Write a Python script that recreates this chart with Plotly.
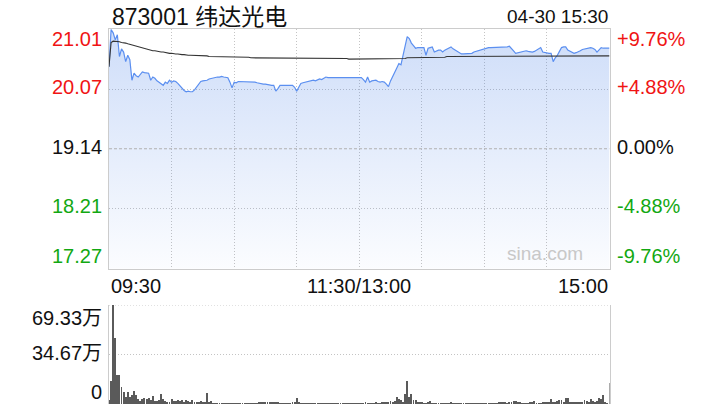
import plotly.graph_objects as go

title_text = "873001 纬达光电"
time_text = "04-30 15:30"
prev_close = 19.14
price_ticks = [21.01, 20.07, 19.14, 18.21, 17.27]
pct_labels = ["+9.76%", "+4.88%", "0.00%", "-4.88%", "-9.76%"]
time_labels = ["09:30", "11:30/13:00", "15:00"]
vol_ticks = [69.33, 34.67, 0]
vol_labels = ["69.33万", "34.67万", "0"]

price = [
    20.42, 21.00, 20.95, 20.84, 20.92, 20.58, 20.70, 20.65, 20.50, 20.60,
    20.53, 20.21, 20.32, 20.28, 20.26, 20.30, 20.34, 20.33, 20.32, 20.32,
    20.21, 20.26, 20.24, 20.20, 20.18, 20.16, 20.13, 20.18, 20.16, 20.21,
    20.18, 20.20, 20.19, 20.16, 20.12, 20.08, 20.05, 20.03, 20.04, 20.03,
    20.03, 20.06, 20.10, 20.15, 20.19, 20.20, 20.20, 20.21, 20.23, 20.24,
    20.25, 20.26, 20.26, 20.26, 20.27, 20.26, 20.26, 20.25, 20.18, 20.09,
    20.18, 20.17, 20.19, 20.19, 20.18, 20.19, 20.19, 20.19, 20.18, 20.19,
    20.18, 20.17, 20.16, 20.16, 20.15, 20.15, 20.14, 20.14, 20.13, 20.13,
    20.04, 20.08, 20.13, 20.13, 20.13, 20.13, 20.13, 20.13, 20.13, 20.10,
    20.04, 20.10, 20.16, 20.17, 20.18, 20.19, 20.19, 20.20, 20.21, 20.20,
    20.21, 20.23, 20.22, 20.24, 20.26, 20.25, 20.25, 20.25, 20.26, 20.25,
    20.25, 20.25, 20.25, 20.26, 20.25, 20.25, 20.25, 20.26, 20.25, 20.25,
    20.26, 20.25, 20.22, 20.18, 20.26, 20.18, 20.20, 20.21, 20.21, 20.19,
    20.18, 20.19, 20.18, 20.15, 20.11, 20.20, 20.26, 20.33, 20.40, 20.47,
    20.45, 20.60, 20.75, 20.89, 20.86, 20.79, 20.75, 20.71, 20.72, 20.72,
    20.72, 20.72, 20.60, 20.71, 20.72, 20.73, 20.65, 20.67, 20.68, 20.68,
    20.65, 20.68, 20.70, 20.72, 20.73, 20.70, 20.68, 20.66, 20.63, 20.62,
    20.62, 20.62, 20.62, 20.62, 20.63, 20.65, 20.66, 20.67, 20.68, 20.70,
    20.71, 20.72, 20.72, 20.72, 20.72, 20.72, 20.72, 20.72, 20.72, 20.73,
    20.73, 20.73, 20.74, 20.71, 20.67, 20.63, 20.64, 20.65, 20.65, 20.66,
    20.67, 20.66, 20.65, 20.65, 20.66, 20.68, 20.70, 20.72, 20.65, 20.64,
    20.64, 20.63, 20.63, 20.50, 20.56, 20.60, 20.66, 20.72, 20.73, 20.73,
    20.68, 20.66, 20.65, 20.63, 20.64, 20.65, 20.67, 20.69, 20.70, 20.71,
    20.72, 20.72, 20.71, 20.69, 20.65, 20.68, 20.72, 20.71, 20.71, 20.71,
    20.71,
]

avg_price = [
    20.42, 20.80, 20.82, 20.82, 20.82, 20.81, 20.80, 20.80, 20.79, 20.78,
    20.77, 20.76, 20.75, 20.74, 20.73, 20.72, 20.71, 20.70, 20.69, 20.68,
    20.68, 20.67, 20.67, 20.66, 20.66, 20.65, 20.65, 20.64, 20.64, 20.63,
    20.63, 20.62, 20.62, 20.62, 20.61, 20.61, 20.61, 20.60, 20.60, 20.60,
    20.60, 20.60, 20.59, 20.59, 20.59, 20.59, 20.59, 20.59, 20.58, 20.58,
    20.58, 20.58, 20.58, 20.58, 20.58, 20.58, 20.58, 20.57, 20.57, 20.57,
    20.57, 20.57, 20.57, 20.57, 20.57, 20.57, 20.57, 20.57, 20.56, 20.56,
    20.56, 20.56, 20.56, 20.56, 20.56, 20.56, 20.56, 20.56, 20.56, 20.56,
    20.56, 20.56, 20.56, 20.56, 20.56, 20.55, 20.55, 20.55, 20.55, 20.55,
    20.55, 20.55, 20.55, 20.55, 20.55, 20.55, 20.55, 20.55, 20.55, 20.55,
    20.55, 20.55, 20.55, 20.55, 20.55, 20.55, 20.55, 20.55, 20.55, 20.55,
    20.55, 20.55, 20.55, 20.55, 20.55, 20.54, 20.54, 20.54, 20.54, 20.54,
    20.54, 20.54, 20.54, 20.54, 20.54, 20.54, 20.54, 20.54, 20.54, 20.54,
    20.54, 20.54, 20.54, 20.54, 20.54, 20.54, 20.54, 20.54, 20.54, 20.54,
    20.55, 20.55, 20.55, 20.56, 20.56, 20.56, 20.57, 20.57, 20.57, 20.57,
    20.57, 20.57, 20.57, 20.57, 20.57, 20.57, 20.57, 20.57, 20.57, 20.57,
    20.57, 20.57, 20.58, 20.58, 20.58, 20.58, 20.58, 20.58, 20.58, 20.58,
    20.58, 20.58, 20.58, 20.58, 20.58, 20.58, 20.58, 20.58, 20.58, 20.58,
    20.58, 20.58, 20.58, 20.58, 20.58, 20.58, 20.58, 20.58, 20.58, 20.58,
    20.58, 20.58, 20.58, 20.58, 20.58, 20.58, 20.58, 20.58, 20.58, 20.58,
    20.58, 20.58, 20.58, 20.58, 20.58, 20.58, 20.58, 20.58, 20.59, 20.59,
    20.59, 20.59, 20.59, 20.59, 20.59, 20.59, 20.59, 20.59, 20.59, 20.59,
    20.59, 20.59, 20.59, 20.59, 20.59, 20.59, 20.59, 20.59, 20.59, 20.59,
    20.59, 20.59, 20.59, 20.59, 20.59, 20.59, 20.59, 20.59, 20.59, 20.59,
    20.59,
]

volume_wan = [
    3.0, 16.2, 69.33, 46.2, 20.1, 20.1, 11.6, 8.1, 5.1, 8.6,
    5.1, 6.2, 9.2, 6.2, 3.5, 2.3, 3.5, 3.9, 3.5, 3.9,
    2.8, 5.8, 2.3, 1.8, 3.0, 6.9, 3.5, 2.3, 1.2, 1.2,
    3.5, 2.3, 2.0, 2.8, 2.0, 2.5, 1.5, 2.8, 2.0, 1.5,
    2.8, 1.2, 1.5, 1.2, 1.8, 1.5, 1.0, 7.6, 0.8, 2.0,
    0.6, 0.5, 0.4, 0.6, 0.5, 0.7, 0.5, 0.4, 0.6, 0.5,
    0.5, 0.6, 0.4, 0.5, 0.7, 0.5, 0.6, 0.4, 0.5, 0.6,
    0.5, 0.7, 0.8, 1.0, 1.2, 0.9, 1.1, 0.8, 1.0, 1.2,
    0.9, 0.8, 0.6, 0.5, 0.6, 0.4, 0.5, 0.6, 0.8, 1.5,
    4.2, 1.2, 0.6, 0.5, 0.4, 0.5, 0.6, 0.5, 0.4, 0.6,
    0.5, 0.7, 0.5, 0.4, 0.6, 0.5, 0.5, 0.6, 0.4, 0.5,
    0.7, 0.5, 0.6, 0.4, 0.5, 0.6, 0.5, 0.7, 0.6, 0.5,
    0.6, 0.5, 0.7, 0.8, 0.6, 0.5, 0.7, 0.6, 0.8, 0.6,
    0.7, 0.8, 0.9, 1.0, 1.0, 2.0, 1.2, 1.8, 4.8, 3.5,
    2.8, 1.5, 6.9, 16.2, 4.6, 6.9, 3.0, 2.8, 1.2, 0.8,
    1.0, 0.7, 0.6, 0.8, 1.8, 0.7, 0.5, 0.6, 0.5, 0.7,
    0.5, 0.6, 0.4, 0.5, 0.8, 0.6, 0.5, 0.7, 0.5, 0.6,
    0.5, 0.4, 0.6, 0.5, 0.7, 0.5, 0.6, 0.5, 0.4, 0.6,
    0.5, 0.6, 0.5, 0.7, 0.6, 0.5, 0.6, 0.8, 0.9, 1.0,
    0.8, 0.7, 1.0, 1.2, 1.8, 1.8, 1.5, 0.8, 0.6, 0.5,
    0.6, 0.7, 1.0, 0.8, 1.8, 0.6, 0.5, 0.6, 0.8, 1.0,
    0.8, 1.0, 3.5, 1.0, 1.2, 2.3, 2.8, 3.0, 1.2, 4.2,
    4.2, 1.0, 0.8, 0.9, 1.0, 0.8, 1.0, 0.9, 2.8, 1.8,
    1.2, 3.5, 1.8, 1.2, 2.3, 4.2, 3.5, 6.2, 0.8, 0.5,
    15.0,
]

minutes = list(range(len(price)))

RED = "#f01414"
GREEN = "#12a812"
BLACK = "#111111"
FONT = "Liberation Sans, Arial, Noto Sans CJK SC, sans-serif"
GRID_DASH = "1px,2px"

W, H = 720, 420
L, R = 109, 609.5
T1, B1 = 29, 268.5
T2, B2 = 305, 404

fig = go.Figure()

fig.add_trace(go.Scatter(
    x=minutes, y=price, mode="lines",
    line=dict(color="#5b8ff0", width=1.2),
    fill="tozeroy",
    fillgradient=dict(type="vertical", start=17.27, stop=21.01,
                      colorscale=[[0, "rgba(60,120,230,0.02)"], [1, "rgba(60,120,230,0.25)"]]),
    xaxis="x", yaxis="y", hoverinfo="skip", showlegend=False,
))
fig.add_trace(go.Scatter(
    x=minutes, y=avg_price, mode="lines",
    line=dict(color="#333333", width=1.1),
    xaxis="x", yaxis="y", hoverinfo="skip", showlegend=False,
))
fig.add_trace(go.Bar(
    x=minutes, y=volume_wan, width=0.45,
    marker=dict(color="#5a5a5a", line=dict(width=0)),
    xaxis="x2", yaxis="y2", hoverinfo="skip", showlegend=False,
))

def px(v, total):
    return v / total

annotations = []
annotations.append(dict(text=title_text, x=px(110, W), y=1 - px(17, H), xref="paper", yref="paper",
                        xanchor="left", yanchor="middle", showarrow=False,
                        font=dict(size=23, color=BLACK, family=FONT)))
annotations.append(dict(text=time_text, x=px(610, W), y=1 - px(17, H), xref="paper", yref="paper",
                        xanchor="right", yanchor="middle", showarrow=False,
                        font=dict(size=19, color=BLACK, family=FONT)))

shifts = [-10, 2, 2, 2, 13]
colors = [RED, RED, BLACK, GREEN, GREEN]
for val, pl, sh, c in zip(price_ticks, pct_labels, shifts, colors):
    annotations.append(dict(text=f"{val:.2f}", x=px(104, W), y=val, xref="paper", yref="y",
                            xanchor="right", yanchor="middle", yshift=sh, showarrow=False,
                            font=dict(size=20, color=c, family=FONT)))
    annotations.append(dict(text=pl, x=px(615, W), y=val, xref="paper", yref="y",
                            xanchor="left", yanchor="middle", yshift=sh, showarrow=False,
                            font=dict(size=20, color=c, family=FONT)))

tx = [0, 120, 240]
tanchor = ["left", "center", "right"]
for lab, xv, an in zip(time_labels, tx, tanchor):
    annotations.append(dict(text=lab, x=xv, y=1 - px(286, H), xref="x", yref="paper",
                            xanchor=an, yanchor="middle", showarrow=False,
                            font=dict(size=20, color=BLACK, family=FONT)))

vshift = [-13, 1, 12]
for val, lab, sh in zip(vol_ticks, vol_labels, vshift):
    annotations.append(dict(text=lab, x=px(104, W), y=val, xref="paper", yref="y2",
                            xanchor="right", yanchor="middle", yshift=sh, showarrow=False,
                            font=dict(size=20, color=BLACK, family=FONT)))

annotations.append(dict(text="sina.com", x=px(585, W), y=1 - px(254, H), xref="paper", yref="paper",
                        xanchor="right", yanchor="middle", showarrow=False,
                        font=dict(size=19, color="#c8c8c8", family=FONT)))

fig.update_layout(
    width=W, height=H,
    margin=dict(l=0, r=0, t=0, b=0),
    paper_bgcolor="white", plot_bgcolor="rgba(0,0,0,0)",
    annotations=annotations,
    bargap=0,
    xaxis=dict(domain=[px(L, W), px(R, W)], range=[0, 240], anchor="y",
               tickvals=[30, 60, 90, 120, 150, 180, 210], showticklabels=False, ticks="",
               showgrid=True, gridcolor="#c4c4c4", griddash=GRID_DASH, gridwidth=1,
               showline=True, linecolor="#cccccc", mirror=True, zeroline=False, fixedrange=True),
    yaxis=dict(domain=[1 - px(B1, H), 1 - px(T1, H)], range=[17.27, 21.01], anchor="x",
               tickvals=[20.07, 18.21], showticklabels=False, ticks="",
               showgrid=True, gridcolor="#c4c4c4", griddash=GRID_DASH, gridwidth=1,
               showline=True, linecolor="#cccccc", mirror=True, zeroline=False, fixedrange=True),
    xaxis2=dict(domain=[px(L, W), px(R, W)], range=[0, 240], anchor="y2",
                showticklabels=False, ticks="", showgrid=False, showline=False,
                zeroline=False, fixedrange=True),
    yaxis2=dict(domain=[1 - px(B2, H), 1 - px(T2, H)], range=[0, 69.33], anchor="x2",
                tickvals=[34.67, 69.33], showticklabels=False, ticks="",
                showgrid=True, gridcolor="#c4c4c4", griddash=GRID_DASH, gridwidth=1,
                showline=True, linecolor="#cccccc", mirror=True, zeroline=False, fixedrange=True),
    shapes=[dict(type="line", xref="x", yref="y", x0=0, x1=240, y0=prev_close, y1=prev_close,
                 line=dict(color="#b0b0b0", width=1, dash="3px,2px"), layer="above"),
            dict(type="line", xref="x2", yref="y2", x0=0, x1=240, y0=69.33, y1=69.33,
                 line=dict(color="#c4c4c4", width=1, dash=GRID_DASH), layer="below")],
)

fig.write_html("out.html", config={"displayModeBar": False},
               post_script="document.body.style.margin='0';document.body.style.padding='0';")
